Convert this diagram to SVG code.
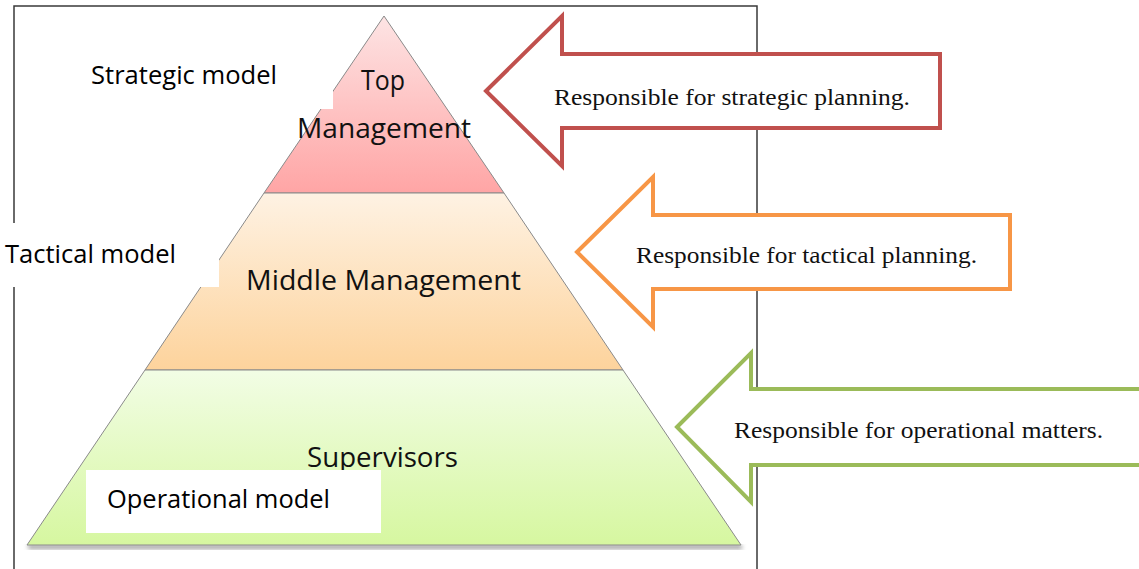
<svg xmlns="http://www.w3.org/2000/svg" width="1139" height="569" viewBox="0 0 1139 569">
  <style>
    .frame { fill: none; stroke: #3a3a3a; stroke-width: 1.5; }
    .band { stroke: #8a8a8a; stroke-width: 1; }
    .tier { font-family: "Open Sans", "Liberation Sans", sans-serif; font-size: 27px; fill: #111; text-anchor: middle; }
    .model { font-family: "Open Sans", "Liberation Sans", sans-serif; font-size: 25px; fill: #000; }
    .note { font-family: "Liberation Serif", serif; font-size: 24px; fill: #111; }
    .arrow { fill: #ffffff; stroke-width: 4; stroke-linejoin: miter; }
    .mask { fill: #ffffff; }
  </style>
  <defs>
    <linearGradient id="gTop" x1="0" y1="0" x2="0" y2="1">
      <stop offset="0" stop-color="#fde4e4"/>
      <stop offset="1" stop-color="#ffa5a5"/>
    </linearGradient>
    <linearGradient id="gMid" x1="0" y1="0" x2="0" y2="1">
      <stop offset="0" stop-color="#fef2e3"/>
      <stop offset="1" stop-color="#fdd39c"/>
    </linearGradient>
    <linearGradient id="gLow" x1="0" y1="0" x2="0" y2="1">
      <stop offset="0" stop-color="#f2fde5"/>
      <stop offset="1" stop-color="#d6f7a0"/>
    </linearGradient>
    <filter id="soft" x="-5%" y="-5%" width="110%" height="120%">
      <feGaussianBlur stdDeviation="2"/>
    </filter>
  </defs>

  <rect width="1139" height="569" fill="#ffffff"/>

  <!-- outer frame (open at the bottom) -->
  <path class="frame" d="M14,569 V6 H757 V569"/>

  <!-- pyramid -->
  <g id="pyramid">
    <polygon points="29,549 743,549 741,545 27,545" fill="#9a9a9a" filter="url(#soft)"/>
    <g id="top-management">
      <polygon class="band" points="384,16 504,193 264,193" fill="url(#gTop)"/>
      <text class="tier" x="383" y="90" textLength="44" lengthAdjust="spacingAndGlyphs">Top</text>
      <text class="tier" x="384" y="138" textLength="174" lengthAdjust="spacingAndGlyphs">Management</text>
    </g>
    <g id="middle-management">
      <polygon class="band" points="264,193 504,193 623,370 145,370" fill="url(#gMid)"/>
      <text class="tier" x="383.5" y="290" textLength="275" lengthAdjust="spacingAndGlyphs">Middle Management</text>
    </g>
    <g id="supervisors">
      <polygon class="band" points="145,370 623,370 741,545 27,545" fill="url(#gLow)"/>
      <text class="tier" x="382.5" y="467" textLength="151" lengthAdjust="spacingAndGlyphs">Supervisors</text>
    </g>
  </g>

  <!-- model labels on white boxes -->
  <g id="strategic-model">
    <rect class="mask" x="80" y="55" width="253" height="54"/>
    <text class="model" x="91" y="84" textLength="186" lengthAdjust="spacingAndGlyphs">Strategic model</text>
  </g>
  <g id="tactical-model">
    <rect class="mask" x="0" y="223" width="219" height="64"/>
    <text class="model" x="5" y="263" textLength="171" lengthAdjust="spacingAndGlyphs">Tactical model</text>
  </g>
  <g id="operational-model">
    <rect class="mask" x="86" y="470" width="295" height="63"/>
    <text class="model" x="107" y="508" textLength="223" lengthAdjust="spacingAndGlyphs">Operational model</text>
  </g>

  <!-- responsibility arrows -->
  <g id="connectors">
    <g id="arrow-strategic">
      <polygon class="arrow" stroke="#c0504d" points="486,91 562,16 562,54 940,54 940,128 562,128 562,166"/>
      <text class="note" x="554" y="105" textLength="356" lengthAdjust="spacingAndGlyphs">Responsible for strategic planning.</text>
    </g>
    <g id="arrow-tactical">
      <polygon class="arrow" stroke="#f79646" points="577,252 653,177 653,215 1010,215 1010,289 653,289 653,327"/>
      <text class="note" x="636" y="263" textLength="341" lengthAdjust="spacingAndGlyphs">Responsible for tactical planning.</text>
    </g>
    <g id="arrow-operational">
      <polygon class="arrow" stroke="#9bbb59" points="677,427 751,353 751,389 1145,389 1145,465 751,465 751,502"/>
      <text class="note" x="734" y="438" textLength="369" lengthAdjust="spacingAndGlyphs">Responsible for operational matters.</text>
    </g>
  </g>
</svg>
